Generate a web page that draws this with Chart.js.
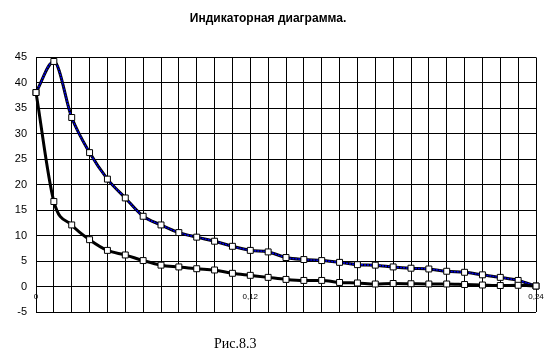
<!DOCTYPE html>
<html>
<head>
<meta charset="utf-8">
<script src="https://cdn.jsdelivr.net/npm/chart.js@4"></script>
<style>
  html, body { margin: 0; padding: 0; background: #fff; }
  #wrap { position: relative; width: 550px; height: 355px; }
  #caption {
    position: absolute; left: 214px; top: 336px;
    font-family: "Liberation Serif", "DejaVu Serif", serif; font-size: 14px; color: #000;
  }
</style>
</head>
<body>
<div id="wrap">
  <canvas id="chart" width="550" height="355"></canvas>
  <div id="caption">Рис.8.3</div>
</div>
<script>
const xLabels = ["0", "", "", "", "", "", "", "", "", "", "", "", "0,12", "", "",
  "", "", "", "", "", "", "", "", "", "", "", "", "", "0,24"];

const upperCurve = [38.1, 44.2, 33.2, 26.3, 21.1, 17.4, 13.8, 12.1, 10.6, 9.7, 8.9, 7.9,
  7.1, 6.8, 5.7, 5.3, 5.1, 4.75, 4.3, 4.2, 3.85, 3.6, 3.45, 3.0, 2.8, 2.3, 1.8, 1.2, 0.1];

const lowerCurve = [38.1, 16.7, 12.1, 9.2, 7.1, 6.2, 5.1, 4.2, 3.85, 3.5, 3.25, 2.6,
  2.2, 1.8, 1.4, 1.2, 1.2, 0.8, 0.7, 0.5, 0.6, 0.55, 0.5, 0.5, 0.4, 0.3, 0.2, 0.25, 0.1];

const font = "'Liberation Sans', Arial, sans-serif";

const marker = {
  pointStyle: "rect",
  pointRadius: 4.2,
  pointBackgroundColor: "#fff",
  pointBorderColor: "#000",
  pointBorderWidth: 1,
};

new Chart(document.getElementById("chart"), {
  type: "line",
  data: {
    labels: xLabels,
    datasets: [
      {
        data: lowerCurve,
        borderColor: "#000",
        borderWidth: 3,
        cubicInterpolationMode: "monotone",
        ...marker,
      },
      {
        data: upperCurve,
        borderColor: "#0000ee",
        borderWidth: 1.5,
        borderDash: [2, 1],
        cubicInterpolationMode: "monotone",
        ...marker,
      },
      {
        data: upperCurve,
        borderColor: "#000",
        borderWidth: 3,
        cubicInterpolationMode: "monotone",
        pointRadius: 0,
      },
    ],
  },
  options: {
    responsive: false,
    animation: false,
    layout: { padding: { left: 0, right: 14, top: 0, bottom: 43 } },
    plugins: {
      legend: { display: false },
      tooltip: { enabled: false },
      title: {
        display: true,
        text: "Индикаторная диаграмма.",
        color: "#000",
        font: { family: font, size: 12, weight: "bold" },
        padding: { top: 11, bottom: 32 },
      },
    },
    scales: {
      x: {
        position: { y: 0 },
        grid: { color: "#000", lineWidth: 1, drawTicks: false },
        border: { display: false },
        ticks: {
          autoSkip: false,
          maxRotation: 0,
          color: "#000",
          padding: 5,
          font: { family: font, size: 8 },
        },
      },
      y: {
        min: -5,
        max: 45,
        afterFit: (scale) => { scale.width = 36; },
        grid: { color: "#000", lineWidth: 1, drawTicks: false },
        border: { color: "#000" },
        ticks: {
          stepSize: 5,
          color: "#000",
          padding: 9,
          font: { family: font, size: 11 },
        },
      },
    },
  },
});
</script>
</body>
</html>
